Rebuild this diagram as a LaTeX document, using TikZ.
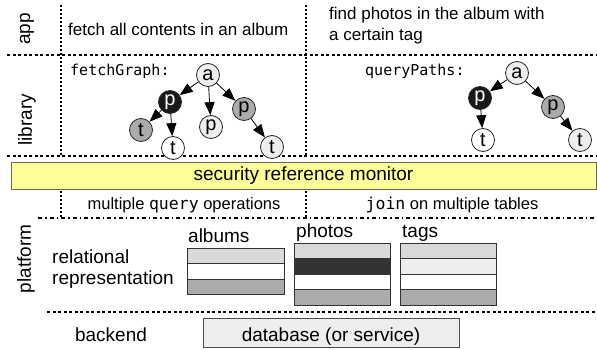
\documentclass[tikz,border=0pt]{standalone}
\usepackage{fontspec}
\setmainfont{Liberation Sans}
\setmonofont{DejaVu Sans Mono}
\usetikzlibrary{arrows.meta}
\definecolor{rmyellow}{HTML}{FFFF99}
\definecolor{lgray}{HTML}{D9D9D9}
\definecolor{vlgray}{HTML}{EEEEEE}
\definecolor{mgray}{HTML}{ABABAB}
\definecolor{dgray}{HTML}{333333}
\tikzset{
  arr/.style={line width=0.8pt,>={Triangle[length=13pt,width=10pt]},->}
}
\begin{document}
\begin{tikzpicture}[x=1pt,y=-1pt,
  sep/.style={line width=1.1pt,dash pattern=on 3pt off 2.5pt},
  vsep/.style={line width=1.1pt,dash pattern=on 2pt off 2pt},
  dsep/.style={line width=1.1pt,dash pattern=on 4pt off 3pt on 1.5pt off 3pt},
  big/.style={font=\fontsize{19}{22}\selectfont},
  mid/.style={font=\fontsize{17}{21}\selectfont},
  small/.style={font=\fontsize{16.5}{19}\selectfont},
  lbl/.style={big,rotate=90,anchor=center,inner sep=0pt},
  txt/.style={anchor=base west,inner sep=0pt},
  vert/.style={circle,draw=black!85,line width=0.8pt,minimum size=23pt,inner sep=0pt,font=\fontsize{20}{22}\selectfont},
  cell/.style={draw=dgray,line width=1pt}
]
\useasboundingbox (0,0) rectangle (597,350);

% separators
\draw[sep] (7,55) -- (597,55);
\draw[sep] (7,156) -- (597,156);
\draw[vsep] (61,5) -- (61,156);
\draw[vsep] (306,5) -- (306,156);
\draw[vsep] (61,191) -- (61,218);
\draw[vsep] (306,191) -- (306,218);
\draw[dsep] (38,218) -- (597,218);
\draw[sep] (47,312) -- (597,312);

% row labels
\node[lbl] (app) at (27,29) {app};
\node[lbl] (lib) at (27,120) {library};
\node[lbl] (plat) at (26,259) {platform};

% app row
\node[txt,mid] (t1) at (68,36) {fetch all contents in an album};
\node[txt,mid,align=left,anchor=north west] (t2) at (329,7) {find photos in the album with\\a certain tag};

% library row
\node[txt,font=\ttfamily\fontsize{15}{18}\selectfont] (fg) at (70,76) {fetchGraph:};
\node[txt,font=\ttfamily\fontsize{15}{18}\selectfont] (qp) at (365,76) {queryPaths:};

% tree 1
\node[vert,fill=vlgray] (a1) at (208,75) {a};
\node[vert,fill=black!90,text=white] (p1) at (170,102) {p};
\node[vert,fill=vlgray] (p2) at (211,127) {p};
\node[vert,fill=mgray] (p3) at (244,109) {p};
\node[vert,fill=mgray] (t1a) at (141,130) {t};
\node[vert,fill=white] (t1b) at (173,148) {t};
\node[vert,fill=vlgray] (t3) at (272,147) {t};
\draw[arr] (a1) -- (p1);
\draw[arr] (a1) -- (p2);
\draw[arr] (a1) -- (p3);
\draw[arr] (p1) -- (t1a);
\draw[arr] (p1) -- (t1b);
\draw[arr] (p3) -- (t3);

% tree 2
\node[vert,fill=vlgray] (b1) at (517,73) {a};
\node[vert,fill=black!90,text=white] (q1) at (480,98) {p};
\node[vert,fill=mgray] (q3) at (553,107) {p};
\node[vert,fill=white] (u1) at (483,140) {t};
\node[vert,fill=vlgray] (u3) at (580,140) {t};
\draw[arr] (b1) -- (q1);
\draw[arr] (b1) -- (q3);
\draw[arr] (q1) -- (u1);
\draw[arr] (q3) -- (u3);

% security reference monitor
\node[draw=black!60,line width=1pt,fill=rmyellow,minimum width=585pt,minimum height=26pt,inner sep=0pt,big] (srm) at (303.5,176) {security reference monitor};

\node[small,anchor=base] (mq) at (184,209) {multiple {\ttfamily query} operations};
\node[small,anchor=base] (jn) at (452,209) {{\ttfamily join} on multiple tables};

% platform
\node[txt,big] (rel) at (52,263) {relational};
\node[txt,big] (rep) at (52,284) {representation};

\node[txt,big] (al) at (188,242) {albums};
\node[txt,big] (ph) at (296,237) {photos};
\node[txt,big] (tg) at (402,237) {tags};

% albums table
\draw[cell,fill=lgray] (187,248) rectangle (284,263);
\draw[cell,fill=white] (187,263) rectangle (284,279);
\draw[cell,fill=mgray] (187,279) rectangle (284,294);
% photos table
\draw[cell,fill=lgray] (294,243) rectangle (390,258.5);
\draw[cell,fill=dgray] (294,258.5) rectangle (390,274);
\draw[cell,fill=white] (294,274) rectangle (390,289.5);
\draw[cell,fill=mgray] (294,289.5) rectangle (390,305);
% tags table
\draw[cell,fill=lgray] (400,243) rectangle (496,258.5);
\draw[cell,fill=vlgray] (400,258.5) rectangle (496,274);
\draw[cell,fill=white] (400,274) rectangle (496,289.5);
\draw[cell,fill=mgray] (400,289.5) rectangle (496,305);

% backend
\node[big,anchor=base] (be) at (111,341) {backend};
\draw[draw=black!70,line width=1pt,fill=vlgray] (203,318) rectangle (459,347);
\node[big,anchor=base] (db) at (331,341) {database (or service)};
\end{tikzpicture}
\end{document}
